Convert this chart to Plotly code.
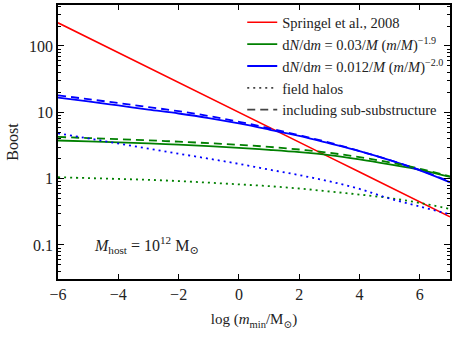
import plotly.graph_objs as go

log_m = [-6, -5, -4, -3, -2, -1, 0, 1, 2, 3, 4, 5, 6, 7]

springel = [224, 133, 79.4, 47.3, 28.2, 16.8, 10.0, 5.96, 3.55, 2.11, 1.26, 0.75, 0.447, 0.266]

green_sub = [3.76, 3.65, 3.53, 3.40, 3.25, 3.09, 2.92, 2.72, 2.51, 2.26, 1.95, 1.64, 1.36, 1.06]
green_subsub = [4.25, 4.09, 3.94, 3.78, 3.61, 3.43, 3.24, 3.01, 2.75, 2.45, 2.11, 1.76, 1.41, 1.08]
green_field = [1.05, 1.02, 0.99, 0.96, 0.92, 0.87, 0.82, 0.77, 0.71, 0.64, 0.575, 0.51, 0.43, 0.35]

blue_sub = [16.7, 14.6, 12.7, 11.0, 9.6, 8.2, 6.8, 5.5, 4.4, 3.4, 2.6, 1.9, 1.33, 0.88]
blue_subsub = [18.0, 15.8, 13.8, 12.0, 10.4, 8.8, 7.2, 5.75, 4.5, 3.5, 2.6, 1.91, 1.35, 0.90]
blue_field = [4.83, 4.05, 3.39, 2.84, 2.38, 2.00, 1.67, 1.37, 1.13, 0.91, 0.70, 0.50, 0.38, 0.29]

RED = '#ff0000'
GREEN = '#008000'
BLUE = '#0000ff'
DOT = '2px,4px'
DASH = '8px,5px'
SERIF = 'Liberation Serif, DejaVu Serif, serif'

traces = [
    go.Scatter(x=log_m, y=springel, mode='lines', name='Springel et al., 2008',
               line=dict(color=RED, width=1.6)),
    go.Scatter(x=log_m, y=green_sub, mode='lines',
               name='d<i>N</i>/d<i>m</i> = 0.03/<i>M</i> (<i>m</i>/<i>M</i>)<sup>−1.9</sup>',
               line=dict(color=GREEN, width=1.8, shape='spline')),
    go.Scatter(x=log_m, y=blue_sub, mode='lines',
               name='d<i>N</i>/d<i>m</i> = 0.012/<i>M</i> (<i>m</i>/<i>M</i>)<sup>−2.0</sup>',
               line=dict(color=BLUE, width=1.8, shape='spline')),
    go.Scatter(x=log_m, y=green_subsub, mode='lines', showlegend=False,
               line=dict(color=GREEN, width=1.8, dash=DASH, shape='spline')),
    go.Scatter(x=log_m, y=blue_subsub, mode='lines', showlegend=False,
               line=dict(color=BLUE, width=1.8, dash=DASH, shape='spline')),
    go.Scatter(x=log_m, y=green_field, mode='lines', showlegend=False,
               line=dict(color=GREEN, width=1.8, dash=DOT, shape='spline')),
    go.Scatter(x=log_m, y=blue_field, mode='lines', showlegend=False,
               line=dict(color=BLUE, width=1.8, dash=DOT, shape='spline')),
    # legend-only entries for the line styles
    go.Scatter(x=[None], y=[None], mode='lines', name='field halos',
               line=dict(color='#444444', width=1.8, dash=DOT)),
    go.Scatter(x=[None], y=[None], mode='lines', name='including sub-substructure',
               line=dict(color='#444444', width=1.8, dash=DASH)),
]

minor_y = [m * 10.0 ** e for e in range(-2, 3) for m in range(2, 10)]

layout = go.Layout(
    width=457, height=343,
    margin=dict(l=58, r=7, t=5, b=64),
    paper_bgcolor='white', plot_bgcolor='white',
    font=dict(family=SERIF, size=15, color='#222222'),
    showlegend=True,
    legend=dict(x=0.47, y=0.995, xanchor='left', yanchor='top',
                bgcolor='rgba(0,0,0,0)', font=dict(family=SERIF, size=14.5),
                tracegroupgap=0, itemwidth=30),
    xaxis=dict(
        range=[-6, 7], tickmode='array', tickvals=[-6, -4, -2, 0, 2, 4, 6],
        ticktext=['−6', '−4', '−2', '0', '2', '4', '6'],
        ticks='inside', ticklen=5, tickcolor='black', showgrid=False,
        zeroline=False, showline=True, linecolor='black', linewidth=1.5,
        mirror='allticks', automargin=False,
        tickfont=dict(family=SERIF, size=16),
        title=dict(text='log (<i>m</i><sub>min</sub>/M<sub>⊙</sub>)', standoff=12,
                   font=dict(family=SERIF, size=15)),
    ),
    yaxis=dict(
        type='log', range=[-1.513, 2.618], tickmode='array',
        tickvals=[0.1, 1, 10, 100], ticktext=['0.1', '1', '10', '100'],
        ticks='inside', ticklen=6, tickcolor='black', showgrid=False,
        zeroline=False, showline=True, linecolor='black', linewidth=1.5,
        mirror='allticks', automargin=False,
        tickfont=dict(family=SERIF, size=16),
        minor=dict(tickmode='array', tickvals=minor_y, ticks='inside',
                   ticklen=3, tickcolor='black', showgrid=False),
        title=dict(text='Boost', standoff=6, font=dict(family=SERIF, size=16)),
    ),
    annotations=[dict(
        x=0.227, y=0.124, xref='paper', yref='paper', showarrow=False,
        xanchor='center', yanchor='middle',
        text='<i>M</i><sub>host</sub> = 10<sup>12</sup> M<sub>⊙</sub>',
        font=dict(family=SERIF, size=16),
    )],
)

fig = go.Figure(data=traces, layout=layout)
fig.write_html('out.html', config={'displayModeBar': False},
               post_script="document.body.style.margin='0px';")
